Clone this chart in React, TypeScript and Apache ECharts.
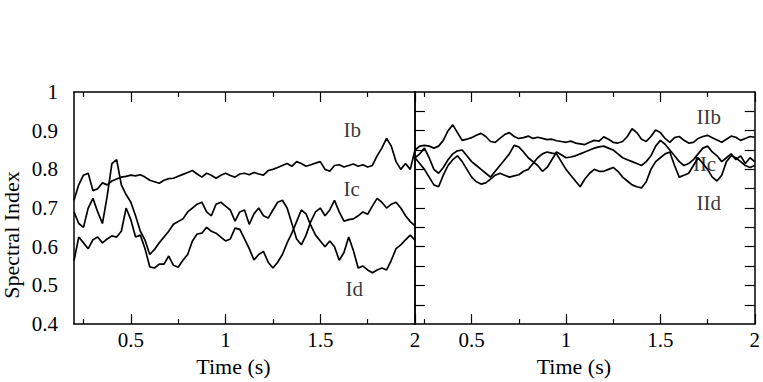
import React, { useEffect, useRef } from "react";
import * as echarts from "echarts";

// sampling times (s), shared by both panels
const time = [
  0.2, 0.225, 0.25, 0.275, 0.3, 0.325, 0.35, 0.375, 0.4, 0.425, 0.45, 0.475,
  0.5, 0.525, 0.55, 0.575, 0.6, 0.625, 0.65, 0.675, 0.7, 0.725, 0.75, 0.775,
  0.8, 0.825, 0.85, 0.875, 0.9, 0.925, 0.95, 0.975, 1.0, 1.025, 1.05, 1.075,
  1.1, 1.125, 1.15, 1.175, 1.2, 1.225, 1.25, 1.275, 1.3, 1.325, 1.35, 1.375,
  1.4, 1.425, 1.45, 1.475, 1.5, 1.525, 1.55, 1.575, 1.6, 1.625, 1.65, 1.675,
  1.7, 1.725, 1.75, 1.775, 1.8, 1.825, 1.85, 1.875, 1.9, 1.925, 1.95, 1.975, 2.0,
];

// left panel
const Ib = [
  0.72, 0.76, 0.785, 0.79, 0.745, 0.75, 0.765, 0.76, 0.77, 0.775, 0.78, 0.782,
  0.785, 0.783, 0.786, 0.78, 0.772, 0.768, 0.764, 0.772, 0.776, 0.777, 0.782, 0.787,
  0.792, 0.797, 0.788, 0.78, 0.79, 0.785, 0.777, 0.785, 0.79, 0.784, 0.78, 0.788,
  0.79, 0.786, 0.792, 0.788, 0.785, 0.797, 0.8, 0.805, 0.81, 0.815, 0.808, 0.82,
  0.815, 0.808, 0.812, 0.816, 0.82, 0.8, 0.795, 0.81, 0.812, 0.806, 0.81, 0.814,
  0.808, 0.812, 0.806, 0.81, 0.835, 0.855, 0.88, 0.86, 0.82, 0.8, 0.815, 0.8, 0.85,
];
const Ic = [
  0.69, 0.66, 0.65, 0.7, 0.725, 0.69, 0.66, 0.73, 0.815, 0.825, 0.76, 0.735,
  0.715, 0.68, 0.64, 0.617, 0.58, 0.593, 0.61, 0.625, 0.64, 0.658, 0.665, 0.672,
  0.69, 0.7, 0.71, 0.715, 0.69, 0.68, 0.71, 0.715, 0.705, 0.695, 0.666, 0.69,
  0.695, 0.658, 0.685, 0.7, 0.68, 0.674, 0.695, 0.715, 0.72, 0.7, 0.66, 0.62,
  0.605, 0.63, 0.665, 0.69, 0.7, 0.68, 0.695, 0.72, 0.69, 0.666, 0.67, 0.672,
  0.68, 0.69, 0.684, 0.705, 0.725, 0.715, 0.7, 0.71, 0.715, 0.7, 0.68, 0.665, 0.654,
];
const Id = [
  0.564, 0.625, 0.61, 0.595, 0.618, 0.625, 0.61, 0.62, 0.628, 0.625, 0.64, 0.7,
  0.67, 0.625, 0.63, 0.595, 0.548, 0.545, 0.555, 0.555, 0.576, 0.552, 0.547, 0.565,
  0.58, 0.615, 0.633, 0.635, 0.65, 0.64, 0.635, 0.625, 0.615, 0.62, 0.648, 0.645,
  0.62, 0.595, 0.566, 0.58, 0.588, 0.56, 0.545, 0.56, 0.58, 0.61, 0.635, 0.665,
  0.695, 0.685, 0.655, 0.63, 0.615, 0.6, 0.615, 0.6, 0.565, 0.585, 0.625, 0.59,
  0.545, 0.55, 0.54, 0.533, 0.54, 0.545, 0.54, 0.565, 0.595, 0.605, 0.618, 0.63, 0.617,
];

// right panel
const IIb = [
  0.85, 0.86, 0.862, 0.86, 0.855, 0.86, 0.875, 0.9, 0.915, 0.895, 0.875, 0.878,
  0.882, 0.888, 0.893, 0.885, 0.872, 0.87, 0.88, 0.89, 0.895, 0.885, 0.88, 0.882,
  0.886, 0.88, 0.883, 0.88, 0.877, 0.878, 0.874, 0.872, 0.87, 0.873, 0.868, 0.866,
  0.864, 0.87, 0.875, 0.873, 0.884, 0.878, 0.87, 0.868, 0.872, 0.885, 0.905, 0.895,
  0.878, 0.872, 0.885, 0.902, 0.895, 0.88, 0.87, 0.882, 0.885, 0.875, 0.868, 0.87,
  0.88, 0.885, 0.888, 0.882, 0.876, 0.87, 0.878, 0.886, 0.883, 0.875, 0.88, 0.885, 0.883,
];
const IIc = [
  0.83, 0.84, 0.855, 0.83, 0.8, 0.79, 0.805, 0.825, 0.84, 0.848, 0.85, 0.835,
  0.82, 0.81, 0.8, 0.79, 0.78, 0.795, 0.81, 0.825, 0.84, 0.862, 0.858, 0.845,
  0.83, 0.82, 0.81, 0.795, 0.805, 0.825, 0.845, 0.838, 0.83, 0.832, 0.835, 0.84,
  0.845, 0.85, 0.855, 0.858, 0.86, 0.855, 0.85, 0.84, 0.83, 0.825, 0.82, 0.815,
  0.81, 0.82, 0.835, 0.86, 0.875, 0.865, 0.85, 0.835, 0.82, 0.81, 0.815, 0.825,
  0.84, 0.855, 0.86, 0.845, 0.835, 0.82, 0.83, 0.84, 0.825, 0.835, 0.815, 0.83, 0.82,
];
const IId = [
  0.83, 0.815, 0.8, 0.78, 0.76, 0.755, 0.785, 0.81, 0.825, 0.835, 0.82, 0.8,
  0.78, 0.768, 0.762, 0.765, 0.775, 0.785, 0.79, 0.785, 0.78, 0.783, 0.786, 0.795,
  0.8, 0.815, 0.83, 0.84, 0.845, 0.842, 0.84, 0.82, 0.8, 0.785, 0.77, 0.755,
  0.775, 0.79, 0.8, 0.795, 0.795, 0.8, 0.805, 0.795, 0.78, 0.77, 0.76, 0.755,
  0.752, 0.768, 0.8, 0.82, 0.83, 0.84, 0.845, 0.81, 0.78, 0.785, 0.79, 0.81,
  0.83, 0.815, 0.8, 0.78, 0.77, 0.785, 0.82, 0.835, 0.83, 0.82, 0.81, 0.805, 0.81,
];

const xMajorTicks = [0.5, 1, 1.5, 2];
const xMinorTicks = [0.25, 0.75, 1.25, 1.75];
const yLabels = [0.4, 0.5, 0.6, 0.7, 0.8, 0.9, 1];
const yRightTicks = [0.45, 0.5, 0.55, 0.6, 0.65, 0.7, 0.75, 0.8, 0.85, 0.9, 0.95];

const leftNames = ["Ib", "Ic", "Id"];
const leftNameX = [1.669, 1.666, 1.679];
const leftNameY = [0.903, 0.748, 0.491];
const rightNames = ["IIb", "IIc", "IId"];
const rightNameX = [1.756, 1.734, 1.756];
const rightNameY = [0.935, 0.814, 0.712];

const FONT = "Liberation Serif";
const BLACK = "#000";

function xAxisDef(gridIndex: number, position: string, ticks: number[], len: number, showLine: boolean, showLabel: boolean, name?: string) {
  return {
    type: "value",
    gridIndex,
    position,
    min: 0.2,
    max: 2,
    name: name || "",
    nameLocation: "middle",
    nameGap: 24,
    nameTextStyle: { fontFamily: FONT, fontSize: 22, color: BLACK, padding: [0, 22, 0, 0] },
    axisLine: { show: showLine, onZero: false, lineStyle: { color: BLACK, width: 1.5 } },
    axisTick: { show: true, inside: true, length: len, customValues: ticks, lineStyle: { color: BLACK, width: 1.2 } },
    axisLabel: {
      show: showLabel,
      customValues: xMajorTicks,
      margin: 5,
      fontFamily: FONT,
      fontSize: 21,
      color: BLACK,
      formatter: (v: number) => String(v),
    },
    splitLine: { show: false },
  };
}

function yAxisDef(gridIndex: number, position: string, showTicks: boolean, showLabel: boolean) {
  return {
    type: "value",
    gridIndex,
    position,
    min: 0.4,
    max: 1,
    axisLine: { show: true, onZero: false, lineStyle: { color: BLACK, width: 1.5 } },
    axisTick: { show: showTicks, inside: true, length: 10, customValues: yRightTicks, lineStyle: { color: BLACK, width: 1.2 } },
    axisLabel: {
      show: showLabel,
      customValues: yLabels,
      margin: 16,
      fontFamily: FONT,
      fontSize: 21,
      color: BLACK,
      formatter: (v: number) => String(+v.toFixed(1)),
    },
    splitLine: { show: false },
  };
}

function lineSeries(name: string, values: number[], xAxisIndex: number, yAxisIndex: number) {
  return {
    name,
    type: "line",
    xAxisIndex,
    yAxisIndex,
    symbol: "none",
    showSymbol: false,
    silent: true,
    lineStyle: { color: BLACK, width: 1.7 },
    data: time.map((t, i) => [t, values[i]]),
  };
}

function nameSeries(names: string[], xs: number[], ys: number[], xAxisIndex: number, yAxisIndex: number) {
  return {
    type: "scatter",
    xAxisIndex,
    yAxisIndex,
    symbolSize: 0,
    silent: true,
    label: {
      show: true,
      position: "inside",
      fontFamily: FONT,
      fontSize: 21,
      color: BLACK,
      formatter: (p: any) => p.name,
    },
    data: names.map((n, i) => ({ name: n, value: [xs[i], ys[i]] })),
  };
}

export default function App() {
  const ref = useRef<HTMLDivElement>(null);
  useEffect(() => {
    if (!ref.current) return;
    const chart = echarts.init(ref.current, undefined, { renderer: "svg" });
    chart.setOption({
      animation: false,
      backgroundColor: "#fff",
      grid: [
        { left: 74, top: 92, width: 341, height: 245 },
        { left: 415, top: 92, width: 341, height: 245 },
      ],
      xAxis: [
        xAxisDef(0, "bottom", xMajorTicks, 10, true, true, "Time (s)"),
        xAxisDef(0, "bottom", xMinorTicks, 5, false, false),
        xAxisDef(0, "top", xMajorTicks, 10, true, false),
        xAxisDef(0, "top", xMinorTicks, 5, false, false),
        xAxisDef(1, "bottom", xMajorTicks, 10, true, true, "Time (s)"),
        xAxisDef(1, "bottom", xMinorTicks, 5, false, false),
        xAxisDef(1, "top", xMajorTicks, 10, true, false),
        xAxisDef(1, "top", xMinorTicks, 5, false, false),
      ],
      yAxis: [
        yAxisDef(0, "left", false, true),
        yAxisDef(0, "right", false, false),
        yAxisDef(1, "left", true, false),
        yAxisDef(1, "right", true, false),
      ],
      graphic: [
        {
          type: "text",
          x: 11,
          y: 235,
          rotation: Math.PI / 2,
          style: {
            text: "Spectral Index",
            fontFamily: FONT,
            fontSize: 22,
            fill: BLACK,
            textAlign: "center",
            textVerticalAlign: "middle",
          },
        },
      ],
      series: [
        lineSeries("Ib", Ib, 0, 0),
        lineSeries("Ic", Ic, 0, 0),
        lineSeries("Id", Id, 0, 0),
        lineSeries("IIb", IIb, 4, 2),
        lineSeries("IIc", IIc, 4, 2),
        lineSeries("IId", IId, 4, 2),
        nameSeries(leftNames, leftNameX, leftNameY, 0, 0),
        nameSeries(rightNames, rightNameX, rightNameY, 4, 2),
      ],
    });
    return () => chart.dispose();
  }, []);
  return (
    <div
      ref={ref}
      style={{ position: "fixed", left: 0, top: 0, width: 763, height: 382, background: "#fff" }}
    />
  );
}
